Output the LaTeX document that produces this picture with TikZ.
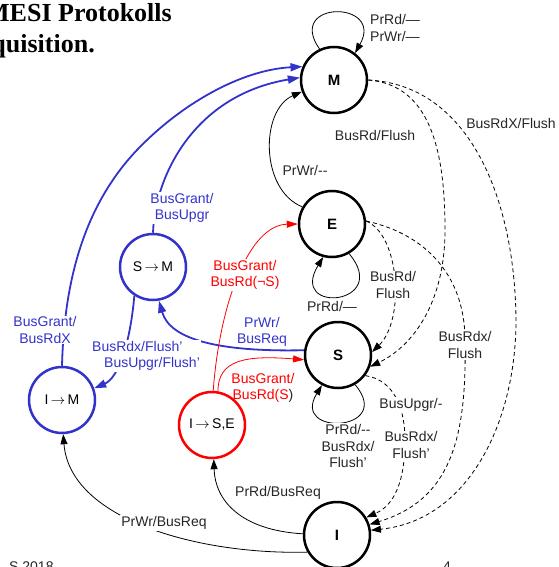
\documentclass[tikz,border=0pt]{standalone}
\usepackage{fontspec}
\setmainfont{Liberation Sans}
\newfontfamily\titlefont{Liberation Serif}
\usetikzlibrary{arrows.meta}
\definecolor{mesiBlue}{RGB}{51,51,204}
\tikzstyle{state} = [circle, minimum size=66pt, inner sep=0pt, line width=2.5pt, draw=black, font=\fontsize{15}{15}\selectfont\bfseries]
\tikzstyle{stateB} = [state, draw=mesiBlue, font=\fontsize{14}{14}\selectfont]
\tikzstyle{stateR} = [state, draw=red, font=\fontsize{14}{14}\selectfont]
\tikzstyle{lbl} = [align=center, inner sep=1pt, font=\fontsize{14}{16.5}\selectfont, text=black!85]
\tikzstyle{lblW} = [lbl, fill=white]
\tikzstyle{lblB} = [lbl, text=mesiBlue]
\tikzstyle{lblR} = [lbl, text=red]
\tikzstyle{arrow} = [line width=0.8pt, -{Triangle[length=10pt,width=7pt]}, draw=black]
\tikzstyle{arrowD} = [arrow, dash pattern=on 4pt off 3pt]
\tikzstyle{arrowB} = [line width=1.8pt, -{Triangle[length=12pt,width=8pt]}, draw=mesiBlue]
\tikzstyle{arrowR} = [line width=0.8pt, -{Triangle[length=11pt,width=7pt]}, draw=red]

\begin{document}
\begin{tikzpicture}[x=1pt, y=-1pt]
    \useasboundingbox (0,0) rectangle (558,567);

    % title (cut by the page)
    \node (title1) [anchor=base east, inner sep=0pt, font=\titlefont\fontsize{26}{26}\selectfont\bfseries] at (172,22) {MESI Protokolls};
    \node (title2) [anchor=base east, inner sep=0pt, font=\titlefont\fontsize{26}{26}\selectfont\bfseries] at (95,53) {Akquisition.};

    % states
    \node (M) [state] at (334,80) {M};
    \node (E) [state] at (332,224) {E};
    \node (S) [state] at (338,355) {S};
    \node (I) [state] at (337,535) {I};
    \node (SM) [stateB] at (153,267) {S\,$\rightarrow$\,M};
    \node (IM) [stateB] at (62,400) {I\,$\rightarrow$\,M};
    \node (ISE) [stateR] at (212,425) {I\,$\rightarrow$\,S,E};

    % black transitions
    \draw [arrow] (M.115) .. controls (285,0) and (385,0) .. (M.52);
    \draw [arrow] (E.150) .. controls (260,190) and (260,110) .. (M.200);
    \draw [arrow] (E.-60) .. controls (392,305) and (288,315) .. (E.-105);
    \draw [arrow] (S.-60) .. controls (395,432) and (290,437) .. (S.-118);
    \draw [arrow] (I.178) .. controls (240,530) and (215,500) .. (ISE.-87);
    \draw [arrow] (I.210) .. controls (200,555) and (70,520) .. (IM.-88);

    % snooped bus transitions
    \draw [arrowD] (M.0) .. controls (430,85) and (445,150) .. (445,230) .. controls (445,300) and (415,345) .. (S.-20);
    \draw [arrowD] (M.0) .. controls (470,85) and (515,200) .. (516,320) .. controls (516,420) and (470,520) .. (I.8);
    \draw [arrowD] (E.5) .. controls (400,235) and (405,320) .. (S.5);
    \draw [arrowD] (E.5) .. controls (430,235) and (465,280) .. (465,340) .. controls (467,440) and (450,500) .. (I.18);
    \draw [arrowD] (S.-37) .. controls (395,380) and (405,410) .. (405,440) .. controls (405,480) and (395,505) .. (I.31);

    % blue transitions
    \draw [arrowB] (IM.north) .. controls (64,290) and (80,210) .. (137,150) .. controls (180,105) and (240,70) .. (M.157);
    \draw [arrowB] (SM.north) .. controls (155,175) and (195,95) .. (M.176);
    \draw [arrowB] (SM.237) .. controls (130,345) and (118,378) .. (IM.20);
    \draw [arrowB] (S.172) .. controls (220,352) and (170,340) .. (SM.-80);

    % red transitions
    \draw [arrowR] (ISE.88) .. controls (220,300) and (250,225) .. (E.180);
    \draw [arrowR] (ISE.80) .. controls (218,360) and (245,355) .. (S.188);

    % labels
    \node (lM) [lbl, align=left, anchor=west] at (369,28) {PrRd/---\\PrWr/---};
    \node (lMS) [lbl] at (375,135) {BusRd/Flush};
    \node (lMI) [lblW] at (511,123) {BusRdX/Flush};
    \node (lEM) [lbl] at (305,170) {PrWr/-{}-};
    \node (lEE) [lbl] at (332,306) {PrRd/---};
    \node (lES) [lblW] at (393,285) {BusRd/\\Flush};
    \node (lEI) [lblW] at (465,345) {BusRdx/\\Flush};
    \node (lSS) [lblW] at (348,446) {PrRd/-{}-\\BusRdx/\\Flush’};
    \node (lSI1) [lblW] at (411,405) {BusUpgr/-};
    \node (lSI2) [lblW] at (411,445) {BusRdx/\\Flush’};
    \node (lIM) [lblW] at (164,523) {PrWr/BusReq};
    \node (lISE) [lbl] at (278,493) {PrRd/BusReq};
    \node (lGrX) [lblB, fill=white] at (45,330) {BusGrant/\\BusRdX};
    \node (lGrU) [lblB, fill=white] at (182,208) {BusGrant/\\BusUpgr};
    \node (lFl) [lblB, fill=white, align=left, anchor=west] at (91,356) {BusRdx/Flush’\\\hspace{12pt}BusUpgr/Flush’};
    \node (lPrWr) [lblB] at (262,332) {PrWr/\\BusReq};
    \node (lGrNS) [lblR, fill=white] at (245,275) {BusGrant/\\BusRd(¬S)};
    \node (lGrS) [lblR] at (263,388) {BusGrant/\\BusRd(S\textcolor{black!85}{)}};

    % footer (cut by the page)
    \node (footL) [lbl, anchor=north west, inner sep=0pt] at (9,562) {S 2018};
    \node (footR) [lbl, anchor=north west, inner sep=0pt] at (443,562) {4};
\end{tikzpicture}
\end{document}
